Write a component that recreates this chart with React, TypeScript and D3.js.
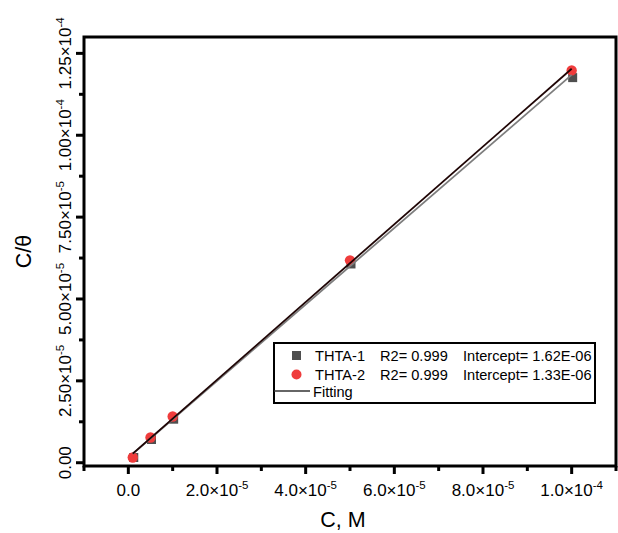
import React from 'react';
import * as d3 from 'd3';

const concentration = [1e-6, 5e-6, 1e-5, 5e-5, 1e-4];
const thta1 = [1.9e-6, 7.4e-6, 13.6e-6, 61.0e-6, 117.9e-6];
const thta2 = [1.6e-6, 7.7e-6, 14.1e-6, 61.8e-6, 119.8e-6];

const xMajorTicks = [0, 2e-5, 4e-5, 6e-5, 8e-5, 1e-4];
const xTickBase = ['0.0', '2.0×10', '4.0×10', '6.0×10', '8.0×10', '1.0×10'];
const xTickExp = ['', '-5', '-5', '-5', '-5', '-4'];
const xMinorTicks = [-1e-5, 1e-5, 3e-5, 5e-5, 7e-5, 9e-5, 1.1e-4];

const yMajorTicks = [0, 2.5e-5, 5e-5, 7.5e-5, 1e-4, 1.25e-4];
const yTickBase = ['0.00', '2.50×10', '5.00×10', '7.50×10', '1.00×10', '1.25×10'];
const yTickExp = ['', '-5', '-5', '-5', '-4', '-4'];
const yMinorTicks = [1.25e-5, 3.75e-5, 6.25e-5, 8.75e-5, 1.125e-4];

const seriesNames = ['THTA-1', 'THTA-2'];
const seriesR2 = ['R2= 0.999', 'R2= 0.999'];
const seriesIntercepts = ['Intercept= 1.62E-06', 'Intercept= 1.33E-06'];
const fitLabel = 'Fitting';

const FONT = '"Liberation Sans", Arial, Helvetica, sans-serif';

function linFit(xs: number[], ys: number[]) {
  const mx = d3.mean(xs) as number;
  const my = d3.mean(ys) as number;
  let sxy = 0, sxx = 0;
  xs.forEach((x, i) => { sxy += (x - mx) * (ys[i] - my); sxx += (x - mx) * (x - mx); });
  const slope = sxy / sxx;
  return { slope, intercept: my - slope * mx };
}

export default function App() {
  const W = 618, H = 533;
  const left = 84, right = 616, top = 37, bottom = 466;
  const x = d3.scaleLinear().domain([-1e-5, 1.1e-4]).range([left, right]);
  const y = d3.scaleLinear().domain([-1e-6, 1.3e-4]).range([bottom, top]);

  const fit1 = linFit(concentration, thta1);
  const fit2 = linFit(concentration, thta2);
  const xFitExt = d3.extent(concentration) as [number, number];
  const fitPath = (f: { slope: number; intercept: number }) =>
    d3.line<number>().x(d => x(d)).y(d => y(f.intercept + f.slope * d))(xFitExt) as string;

  const sq = 9;
  const lgX = 274, lgY = 343, lgW = 321, lgH = 60;

  return (
    <div style={{ position: 'absolute', left: 0, top: 0 }}>
      <svg width={W} height={H} style={{ display: 'block', background: '#fff' }} fontFamily={FONT}>
        <rect x={0} y={0} width={W} height={H} fill="#fff" />
        {/* data points */}
        {concentration.map((c, i) => (
          <rect key={'s' + i} x={x(c) - sq / 2 + 1} y={y(thta1[i]) - sq / 2 + 1} width={sq} height={sq} fill="#4f4f4f" />
        ))}
        {concentration.map((c, i) => (
          <circle key={'c' + i} cx={x(c)} cy={y(thta2[i])} r={5.2} fill="#ef3c3c" />
        ))}
        {/* fit lines */}
        <path d={fitPath(fit1)} stroke="#7d7d7d" strokeWidth={1.8} fill="none" />
        <path d={fitPath(fit2)} stroke="#1e0404" strokeWidth={1.8} fill="none" />

        {/* frame */}
        <rect x={left} y={top} width={right - left} height={bottom - top} fill="none" stroke="#000" strokeWidth={3} />

        {/* x ticks */}
        {xMajorTicks.map((t, i) => (
          <line key={'xm' + i} x1={x(t)} x2={x(t)} y1={bottom} y2={bottom + 8} stroke="#000" strokeWidth={3} />
        ))}
        {xMinorTicks.map((t, i) => (
          <line key={'xn' + i} x1={x(t)} x2={x(t)} y1={bottom} y2={bottom + 5} stroke="#000" strokeWidth={3} />
        ))}
        {xMajorTicks.map((t, i) => (
          <text key={'xl' + i} x={x(t)} y={496} fontSize={17} textAnchor="middle" fill="#000">
            {xTickBase[i]}
            {xTickExp[i] && <tspan fontSize={11.5} dy={-7.5}>{xTickExp[i]}</tspan>}
          </text>
        ))}

        {/* y ticks */}
        {yMajorTicks.map((t, i) => (
          <line key={'ym' + i} x1={left - 8} x2={left} y1={y(t)} y2={y(t)} stroke="#000" strokeWidth={3} />
        ))}
        {yMinorTicks.map((t, i) => (
          <line key={'yn' + i} x1={left - 5} x2={left} y1={y(t)} y2={y(t)} stroke="#000" strokeWidth={3} />
        ))}
        {yMajorTicks.map((t, i) => (
          <text key={'yl' + i} transform={`translate(71,${y(t)}) rotate(-90)`} fontSize={17} textAnchor="middle" fill="#000">
            {yTickBase[i]}
            {yTickExp[i] && <tspan fontSize={11.5} dy={-7.5}>{yTickExp[i]}</tspan>}
          </text>
        ))}

        {/* axis titles */}
        <text x={343} y={527} fontSize={21.5} textAnchor="middle" fill="#000">C, M</text>
        <text transform={`translate(31,${(top + bottom) / 2}) rotate(-90)`} fontSize={21.5} textAnchor="middle" fill="#000">C/θ</text>

        {/* legend */}
        <rect x={lgX} y={lgY} width={lgW} height={lgH} fill="#fff" stroke="#000" strokeWidth={2} />
        <rect x={296.5 - 4.5} y={355.5 - 4.5} width={9} height={9} fill="#4f4f4f" />
        <circle cx={296.5} cy={374.5} r={5} fill="#ef3c3c" />
        <line x1={lgX} x2={310} y1={391} y2={391} stroke="#333" strokeWidth={1.6} />
        {seriesNames.map((n, i) => (
          <g key={'lg' + i} fontSize={14.6} fill="#000">
            <text x={315} y={360.5 + i * 19}>{n}</text>
            <text x={380} y={360.5 + i * 19}>{seriesR2[i]}</text>
            <text x={463} y={360.5 + i * 19}>{seriesIntercepts[i]}</text>
          </g>
        ))}
        <text x={313} y={396.5} fontSize={14.6} fill="#000">{fitLabel}</text>
      </svg>
    </div>
  );
}
